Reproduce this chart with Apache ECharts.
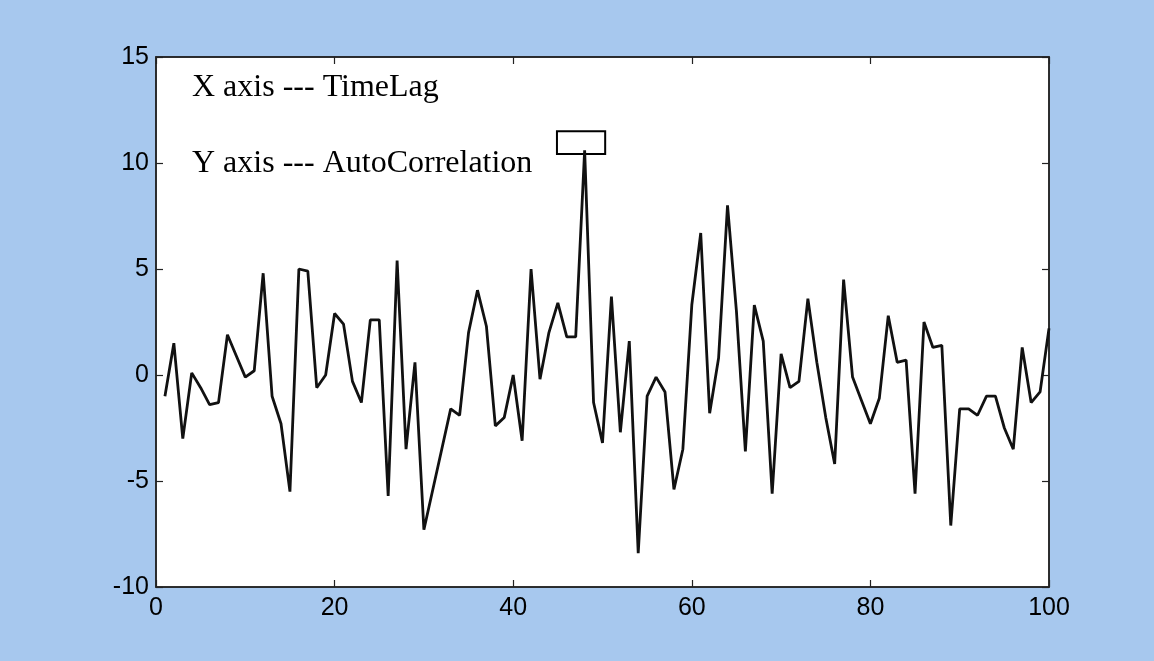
<!DOCTYPE html>
<html>
<head>
<meta charset="utf-8">
<title>AutoCorrelation</title>
<script src="https://cdn.jsdelivr.net/npm/echarts@6/dist/echarts.min.js"></script>
<style>
	html, body { margin: 0; padding: 0; background: #a7c8ee; }
	#chart { width: 1154px; height: 661px; }
</style>
</head>
<body>
<div id="chart"></div>
<script>
	// time lags 1..100
	var lags = [];
	for (var k = 1; k <= 100; k++) { lags.push(k); }

	// autocorrelation values
	var autoCorr = [
		-1.0, 1.5, -3.0, 0.1, -0.6, -1.4, -1.3, 1.9, 0.9, -0.1,
		0.2, 4.8, -1.0, -2.3, -5.5, 5.0, 4.9, -0.6, 0.0, 2.9,
		2.4, -0.3, -1.3, 2.6, 2.6, -5.7, 5.4, -3.5, 0.6, -7.3,
		-5.4, -3.5, -1.6, -1.9, 2.0, 4.0, 2.3, -2.4, -2.0, 0.0,
		-3.1, 5.0, -0.2, 2.0, 3.4, 1.8, 1.8, 10.6, -1.3, -3.2,
		3.7, -2.7, 1.6, -8.4, -1.0, -0.1, -0.8, -5.4, -3.5, 3.3,
		6.7, -1.8, 0.8, 8.0, 3.0, -3.6, 3.3, 1.6, -5.6, 1.0,
		-0.6, -0.3, 3.6, 0.6, -2.0, -4.2, 4.5, -0.1, -1.2, -2.3,
		-1.1, 2.8, 0.6, 0.7, -5.6, 2.5, 1.3, 1.4, -7.1, -1.6,
		-1.6, -1.9, -1.0, -1.0, -2.5, -3.5, 1.3, -1.3, -0.8, 2.2
	];

	var xTicks = { min: 0, max: 100, step: 20 };
	var yTicks = { min: -10, max: 15, step: 5 };

	// box drawn around the highest peak
	var peakBox = [[44.9, 11.5], [50.3, 10.42]];

	var notes = ['X axis --- TimeLag', 'Y axis --- AutoCorrelation'];

	var seriesData = lags.map(function (lag, i) { return [lag, autoCorr[i]]; });

	var labelFont = {
		color: '#000',
		fontFamily: 'Liberation Sans, Arial, sans-serif',
		fontSize: 25
	};
	var axisLine = { show: true, onZero: false, lineStyle: { color: '#222', width: 1.5 } };
	var tick = { show: true, inside: true, length: 7, lineStyle: { color: '#222', width: 1.2 } };
	var noteFont = '32px "Liberation Serif", "Times New Roman", serif';

	var chart = echarts.init(document.getElementById('chart'));
	chart.setOption({
		backgroundColor: '#a7c8ee',
		animation: false,
		grid: {
			left: 156, right: 105, top: 57, bottom: 74,
			show: true,
			backgroundColor: '#fff',
			borderColor: '#222',
			borderWidth: 1.5
		},
		xAxis: [
			{
				type: 'value',
				min: xTicks.min, max: xTicks.max, interval: xTicks.step,
				axisLine: axisLine, axisTick: tick,
				splitLine: { show: false },
				axisLabel: Object.assign({ margin: 9 }, labelFont)
			},
			{
				type: 'value', position: 'top',
				min: xTicks.min, max: xTicks.max, interval: xTicks.step,
				axisLine: axisLine, axisTick: tick,
				splitLine: { show: false },
				axisLabel: { show: false }
			}
		],
		yAxis: [
			{
				type: 'value',
				min: yTicks.min, max: yTicks.max, interval: yTicks.step,
				axisLine: axisLine, axisTick: tick,
				splitLine: { show: false },
				axisLabel: Object.assign({ margin: 7 }, labelFont)
			},
			{
				type: 'value', position: 'right',
				min: yTicks.min, max: yTicks.max, interval: yTicks.step,
				axisLine: axisLine, axisTick: tick,
				splitLine: { show: false },
				axisLabel: { show: false }
			}
		],
		series: [
			{
				type: 'line',
				data: seriesData,
				showSymbol: false,
				symbol: 'none',
				lineStyle: { color: '#111', width: 2.8 },
				markArea: {
					silent: true,
					itemStyle: { color: 'rgba(0,0,0,0)', borderColor: '#000', borderWidth: 2 },
					data: [[{ coord: peakBox[0] }, { coord: peakBox[1] }]]
				}
			}
		],
		graphic: [
			{
				type: 'text', left: 192, top: 72,
				style: { text: notes[0], fill: '#000', font: noteFont }
			},
			{
				type: 'text', left: 192, top: 148,
				style: { text: notes[1], fill: '#000', font: noteFont }
			}
		]
	});
</script>
</body>
</html>
